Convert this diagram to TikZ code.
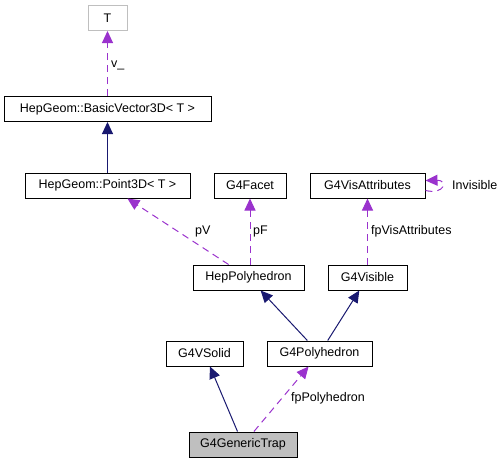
\documentclass[tikz,border=0pt]{standalone}
\usepackage{fontspec}
\setmainfont{Liberation Sans}
\usetikzlibrary{arrows.meta}
\definecolor{inhblue}{RGB}{25,25,112}
\definecolor{usepurple}{RGB}{154,50,205}

\begin{document}
\begin{tikzpicture}[x=1pt,y=-1pt,
	font=\fontsize{12.5}{14}\selectfont,
	cls/.style={draw, line width=1pt, fill=white, minimum height=25pt, inner sep=2pt},
	inh/.style={-{Triangle[length=12pt,width=11pt]}, line width=1pt, color=inhblue},
	use/.style={-{Triangle[length=12pt,width=11pt]}, line width=1pt, color=usepurple, dash pattern=on 7pt off 5pt},
	lbl/.style={anchor=west, inner sep=0pt}]
		\useasboundingbox (0,0) rectangle (504,464);

		\node[cls, draw=black!25, minimum width=39pt] (T) at (107.5,18) {T};
		\node[cls, minimum width=207pt] (basicvec) at (107.5,109) {HepGeom::BasicVector3D< T >};
		\node[cls, minimum width=165pt] (point) at (107.5,185.5) {HepGeom::Point3D< T >};
		\node[cls, minimum width=72pt] (facet) at (250,185.5) {G4Facet};
		\node[cls, minimum width=115pt] (visatt) at (367.5,185.5) {G4VisAttributes};
		\node[cls, minimum width=111pt] (heppoly) at (248.5,277.5) {HepPolyhedron};
		\node[cls, minimum width=79pt] (visible) at (367.5,277.5) {G4Visible};
		\node[cls, minimum width=77pt] (vsolid) at (204.5,353.5) {G4VSolid};
		\node[cls, minimum width=105pt] (g4poly) at (319.5,353.5) {G4Polyhedron};
		\node[cls, fill=black!25, minimum width=108pt] (trap) at (243,444.5) {G4GenericTrap};

		\draw[use] (basicvec) -- (T);
		\draw[inh] (point) -- (basicvec);
		\draw[use] (heppoly) -- (point);
		\draw[use] (heppoly.north -| facet) -- (facet);
		\draw[use] (visible) -- (visatt);
		\draw[use] ([yshift=-5pt]visatt.east) .. controls (445,195) and (448,180) .. ([yshift=5pt]visatt.east);
		\draw[inh] (g4poly) -- (heppoly);
		\draw[inh] (g4poly) -- (visible);
		\draw[inh] (trap) -- (vsolid);
		\draw[use] (trap) -- (g4poly);

		\node[lbl] (lv) at (111,65) {v\_};
		\node[lbl] (lpv) at (195,231) {pV};
		\node[lbl] (lpf) at (253,231) {pF};
		\node[lbl] (lfpv) at (371,231) {fpVisAttributes};
		\node[lbl] (linv) at (452,185) {Invisible};
		\node[lbl] (lfpp) at (291,398) {fpPolyhedron};
	\end{tikzpicture}
\end{document}
